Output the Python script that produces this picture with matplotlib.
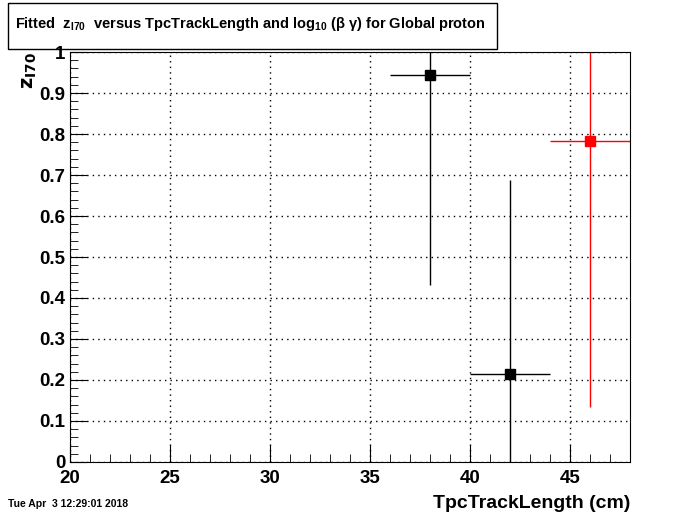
import matplotlib
matplotlib.use("Agg")
import matplotlib.pyplot as plt
from matplotlib.ticker import MultipleLocator
from matplotlib.patches import Rectangle

plt.rcParams['font.family'] = ['Liberation Sans', 'DejaVu Sans']

# black points
x_blk = [38, 42]
y_blk = [0.943, 0.215]
xe_blk = [2, 2]
ylo_blk = [0.511, 0.215]
yhi_blk = [0.30, 0.473]

# red point
x_red = [46]
y_red = [0.783]
xe_red = [2]
ylo_red = [0.648]
yhi_red = [0.40]

fig = plt.figure(figsize=(7, 5.14), dpi=100)
ax = fig.add_axes([0.1, 0.1012, 0.8, 0.7976])

ax.errorbar(x_blk, y_blk, xerr=xe_blk, yerr=[ylo_blk, yhi_blk], fmt='s', color='black',
            ms=7, elinewidth=1, capsize=0)
ax.errorbar(x_red, y_red, xerr=xe_red, yerr=[ylo_red, yhi_red], fmt='s', color='red',
            ms=7, elinewidth=1, capsize=0)

ax.set_xlim(20, 48)
ax.set_ylim(0, 1)
ax.xaxis.set_minor_locator(MultipleLocator(1))
ax.yaxis.set_minor_locator(MultipleLocator(0.02))
ax.set_yticks([0, 0.1, 0.2, 0.3, 0.4, 0.5, 0.6, 0.7, 0.8, 0.9, 1])
ax.set_yticklabels(['0', '0.1', '0.2', '0.3', '0.4', '0.5', '0.6', '0.7', '0.8', '0.9', '1'],
                   fontweight='bold')
ax.set_xticks([20, 25, 30, 35, 40, 45])
ax.set_xticklabels(['20', '25', '30', '35', '40', '45'], fontweight='bold')
ax.tick_params(which='both', direction='in', top=False, right=False)
ax.tick_params(which='major', length=12, labelsize=13.5)
ax.tick_params(which='minor', length=6)
ax.tick_params(axis='x', pad=6)
ax.grid(True, which='major', color='black', linestyle=(0, (1, 3)), linewidth=1)

# axis titles placed in figure coords, ROOT-like
fig.text(630 / 700, 1 - 504 / 514, 'TpcTrackLength (cm)', fontsize=14, fontweight='bold',
         ha='right', va='center')
fig.text(30 / 700, 1 - 52 / 514, r'$\mathbf{z_{I70}}$', fontsize=14, rotation=90,
         ha='center', va='top')

fig.patches.append(Rectangle((8 / 700, 1 - 49 / 514), 489 / 700, 46 / 514,
                             transform=fig.transFigure, fill=False,
                             edgecolor='black', linewidth=1))
fig.text(250 / 700, 1 - 24 / 514,
         r'Fitted  z$_{\mathregular{I70}}$  versus TpcTrackLength and log$_{\mathregular{10}}$ (β γ) for Global proton',
         ha='center', va='center', fontsize=10.5, fontweight='bold')
fig.text(8 / 700, 1 - 504 / 514, 'Tue Apr  3 12:29:01 2018', fontsize=7.5, fontweight='bold',
         ha='left', va='center')

fig.savefig('out.png', dpi=100)
